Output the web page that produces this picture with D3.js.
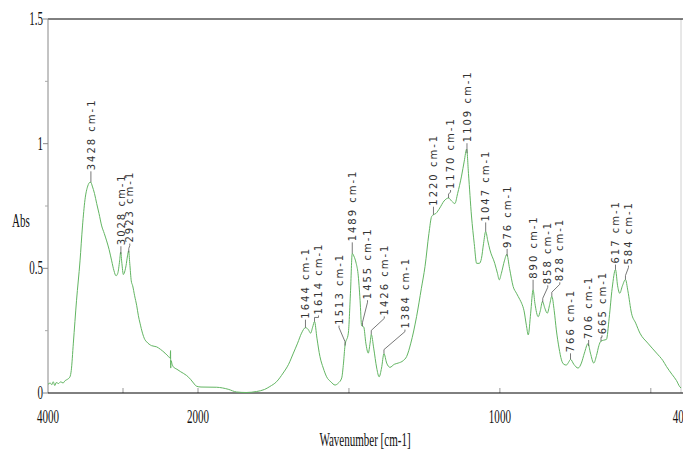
<!DOCTYPE html>
<html>
<head>
<meta charset="utf-8">
<script src="https://cdn.jsdelivr.net/npm/d3@7"></script>
<style>
    body { margin: 0; background: #fff; }
    svg { display: block; }
</style>
</head>
<body>
<div id="chart_div"></div>
<script>
// spectrum, wavenumber [cm-1] and absorbance
const wavenumbers = [4000, 3970, 3950, 3930, 3910, 3890, 3860, 3830, 3800, 3770, 3740, 3707, 3690, 3662, 3620, 3573, 3540, 3507, 3470, 3440, 3428, 3410, 3380, 3351, 3320, 3284, 3250, 3218, 3185, 3151, 3120, 3093, 3070, 3045, 3031, 3015, 2995, 2985, 2960, 2940, 2925, 2910, 2890, 2871, 2845, 2817, 2795, 2773, 2740, 2710, 2684, 2620, 2551, 2500, 2440, 2390, 2370, 2366, 2364, 2360, 2345, 2329, 2280, 2230, 2151, 2100, 2060, 2018, 1990, 1938, 1900, 1872, 1840, 1806, 1780, 1762, 1740, 1718, 1700, 1684, 1670, 1657, 1644, 1635, 1627, 1620, 1614, 1606, 1596, 1585, 1574, 1560, 1546, 1535, 1524, 1518, 1513, 1502, 1495, 1489, 1484, 1476, 1470, 1463, 1458, 1451, 1444, 1436, 1430, 1426, 1418, 1408, 1400, 1392, 1384, 1375, 1364, 1350, 1337, 1320, 1309, 1295, 1276, 1260, 1248, 1235, 1226, 1220, 1212, 1199, 1185, 1170, 1160, 1149, 1140, 1127, 1118, 1110, 1104, 1094, 1085, 1077, 1068, 1061, 1054, 1047, 1040, 1033, 1017, 1008, 1002, 995, 985, 977, 968, 956, 945, 934, 928, 920, 912, 906, 898, 890, 884, 873, 866, 859, 851, 843, 835, 828, 820, 813, 804, 796, 788, 780, 773, 766, 755, 741, 730, 720, 708, 700, 689, 680, 672, 666, 656, 647, 638, 628, 617, 610, 603, 594, 584, 576, 564, 550, 536, 510, 481, 460, 448, 430, 415, 404, 400];
const absorbance = [0.035, 0.04, 0.033, 0.045, 0.03, 0.042, 0.038, 0.045, 0.04, 0.05, 0.055, 0.065, 0.09, 0.2, 0.37, 0.53, 0.67, 0.775, 0.83, 0.845, 0.845, 0.83, 0.8, 0.76, 0.72, 0.67, 0.64, 0.61, 0.575, 0.53, 0.49, 0.47, 0.48, 0.53, 0.565, 0.52, 0.475, 0.48, 0.51, 0.55, 0.57, 0.52, 0.45, 0.43, 0.39, 0.35, 0.31, 0.28, 0.24, 0.215, 0.205, 0.19, 0.185, 0.175, 0.16, 0.145, 0.14, 0.17, 0.1, 0.13, 0.115, 0.105, 0.095, 0.085, 0.07, 0.055, 0.04, 0.027, 0.024, 0.023, 0.015, 0.004, 0.002, 0.006, 0.014, 0.026, 0.045, 0.08, 0.115, 0.16, 0.2, 0.24, 0.262, 0.255, 0.24, 0.265, 0.287, 0.22, 0.146, 0.1, 0.065, 0.045, 0.032, 0.04, 0.06, 0.12, 0.19, 0.24, 0.4, 0.56, 0.55, 0.52, 0.48, 0.37, 0.27, 0.265, 0.2, 0.16, 0.2, 0.235, 0.18, 0.1, 0.065, 0.1, 0.158, 0.12, 0.103, 0.115, 0.12, 0.13, 0.146, 0.2, 0.306, 0.42, 0.507, 0.64, 0.708, 0.715, 0.72, 0.742, 0.77, 0.782, 0.77, 0.76, 0.8, 0.87, 0.93, 0.978, 0.88, 0.71, 0.6, 0.52, 0.52, 0.54, 0.6, 0.648, 0.61, 0.574, 0.52, 0.48, 0.454, 0.48, 0.53, 0.556, 0.5, 0.427, 0.4, 0.375, 0.36, 0.33, 0.27, 0.233, 0.32, 0.414, 0.36, 0.306, 0.33, 0.367, 0.34, 0.32, 0.355, 0.388, 0.33, 0.253, 0.18, 0.133, 0.115, 0.112, 0.122, 0.135, 0.115, 0.1, 0.12, 0.16, 0.198, 0.16, 0.12, 0.15, 0.19, 0.207, 0.212, 0.215, 0.3, 0.42, 0.495, 0.43, 0.4, 0.43, 0.455, 0.41, 0.32, 0.28, 0.24, 0.2, 0.16, 0.13, 0.106, 0.075, 0.05, 0.025, 0.02];

// labelled peaks
const peaks = [3428, 3028, 2923, 1644, 1614, 1513, 1489, 1455, 1426, 1384, 1220, 1170, 1109, 1047, 976, 890, 858, 828, 766, 706, 665, 617, 584];

const xTickLabels = [4000, 2000, 1000, 400];
const xMinorTicks = [3000, 2000, 1500, 1000, 500];
const yTickLabels = [0, 0.5, 1, 1.5];
const yMinorTicks = [0.25, 0.75, 1.25];

// label placement: [shift right, lift above peak] in px
const labelNudge = {
    3428: [0, 11], 3028: [0, 8], 2923: [1, 9], 1644: [0, 8], 1614: [4, 6],
    1513: [-6, 20], 1489: [0, 11], 1455: [5, 26], 1426: [13, 18], 1384: [21, 24],
    1220: [0, 8], 1170: [2, 8], 1109: [0, 10], 1047: [0, 9], 976: [0, 7],
    890: [0, 10], 858: [5, 17], 828: [8, 14], 766: [0, 6], 706: [0, 6],
    665: [1, 6], 617: [0, 5], 584: [3, 14]
};

const width = 683;
const height = 451;

const x = d3.scaleLinear()
    .domain([4000, 2000, 400])
    .range([48, 198, 681]);

const y = d3.scaleLinear()
    .domain([0, 1.5])
    .range([393, 19]);

const svg = d3.select("#chart_div")
    .append("svg")
    .attr("width", width)
    .attr("height", height);

const serif = "'Liberation Serif', 'Times New Roman', serif";

// condensed serif text, like the original export
const squashedText = (g, tx, ty, txt, anchor) => g.append("text")
    .attr("transform", `translate(${tx},${ty}) scale(0.58,1)`)
    .attr("text-anchor", anchor)
    .style("font-family", serif)
    .style("font-size", "19px")
    .attr("fill", "#111")
    .text(txt);

// Frame

svg.append("line")
    .attr("x1", x(400)).attr("x2", x(400))
    .attr("y1", y(1.5)).attr("y2", y(0))
    .attr("stroke", "#d0d0d0");

svg.append("line")
    .attr("x1", 48).attr("x2", width)
    .attr("y1", y(1.5)).attr("y2", y(1.5))
    .attr("stroke", "#000");

svg.append("line")
    .attr("x1", 48).attr("x2", 48)
    .attr("y1", y(1.5)).attr("y2", y(0))
    .attr("stroke", "#888");

// Axes

const yAxis = svg.append("g");
yAxis.selectAll("line.major")
    .data(yTickLabels)
    .enter()
    .append("line")
    .attr("x1", 43).attr("x2", 48)
    .attr("y1", d => y(d)).attr("y2", d => y(d))
    .attr("stroke", "#888");
yAxis.selectAll("line.minor")
    .data(yMinorTicks)
    .enter()
    .append("line")
    .attr("x1", 45).attr("x2", 48)
    .attr("y1", d => y(d)).attr("y2", d => y(d))
    .attr("stroke", "#aaa");
yTickLabels.forEach(d => squashedText(yAxis, 43, y(d) + 6, String(d), "end"));

const xAxis = svg.append("g");
xAxis.selectAll("line")
    .data(xMinorTicks)
    .enter()
    .append("line")
    .attr("x1", d => x(d)).attr("x2", d => x(d))
    .attr("y1", y(0) - 5).attr("y2", y(0))
    .attr("stroke", "#999");
// the last label runs past the right edge, as in the original
xTickLabels.forEach(d => squashedText(xAxis, x(d), 423, String(d), "middle"));

svg.append("line")
    .attr("x1", 48).attr("x2", width)
    .attr("y1", y(0)).attr("y2", y(0))
    .attr("stroke", "#000");

squashedText(svg, 365, 446, "Wavenumber [cm-1]", "middle");
squashedText(svg, 12, 227, "Abs", "start");

// Spectrum

const spectrum = wavenumbers.map((w, i) => ({ w: w, a: absorbance[i] }));

const line = d3.line()
    .x(d => x(d.w))
    .y(d => y(d.a))
    .curve(d3.curveMonotoneX);

svg.append("path")
    .datum(spectrum)
    .attr("d", line)
    .attr("fill", "none")
    .attr("stroke", "#62b562")
    .attr("stroke-width", 1);

// Peak labels

const absAt = w => {
    const i = wavenumbers.findIndex(v => v <= w);
    if (wavenumbers[i] === w || i === 0) return absorbance[i];
    const t = (w - wavenumbers[i]) / (wavenumbers[i - 1] - wavenumbers[i]);
    return absorbance[i] + t * (absorbance[i - 1] - absorbance[i]);
};

const labels = svg.append("g");
peaks.forEach(p => {
    const px = x(p);
    const py = y(absAt(p));
    const [dx, lift] = labelNudge[p];
    const tx = px + dx;
    const ty = py - lift;
    const path = dx === 0
        ? `M${px},${py}L${tx},${ty}`
        : `M${px},${py}L${px},${py - 4}L${tx},${ty + 2}L${tx},${ty}`;
    labels.append("path")
        .attr("d", path)
        .attr("fill", "none")
        .attr("stroke", "#555")
        .attr("stroke-width", 0.8);
    labels.append("text")
        .attr("transform", `translate(${tx},${ty - 1}) rotate(-90)`)
        .attr("dy", "0.36em")
        .style("font-family", "'DejaVu Sans', sans-serif")
        .style("font-size", "10px")
        .style("letter-spacing", "2px")
        .attr("fill", "#333")
        .text(`${p} cm-1`);
});
</script>
</body>
</html>
